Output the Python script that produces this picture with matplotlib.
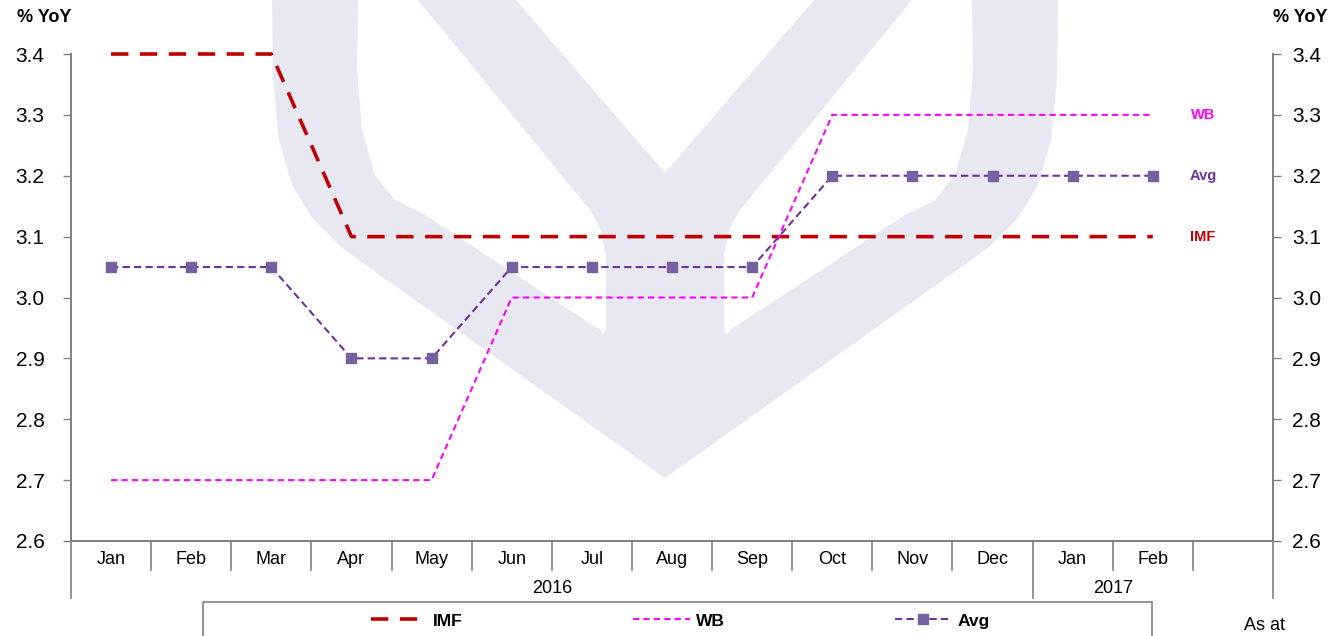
import matplotlib.pyplot as plt
from matplotlib.patches import Polygon, Rectangle

plt.rcParams['font.family'] = ['Liberation Sans', 'DejaVu Sans']

# data
months = ["Jan", "Feb", "Mar", "Apr", "May", "Jun", "Jul", "Aug", "Sep",
          "Oct", "Nov", "Dec", "Jan", "Feb", ""]
years = ["2016", "2017"]
imf = [3.4, 3.4, 3.4, 3.1, 3.1, 3.1, 3.1, 3.1, 3.1, 3.1, 3.1, 3.1, 3.1, 3.1]
wb = [2.7, 2.7, 2.7, 2.7, 2.7, 3.0, 3.0, 3.0, 3.0, 3.3, 3.3, 3.3, 3.3, 3.3]
avg = [3.05, 3.05, 3.05, 2.9, 2.9, 3.05, 3.05, 3.05, 3.05, 3.2, 3.2, 3.2, 3.2, 3.2]
yticks = [2.6, 2.7, 2.8, 2.9, 3.0, 3.1, 3.2, 3.3, 3.4]

W, H = 1343, 636
fig = plt.figure(figsize=(W / 100, H / 100), dpi=100)

# background layer in pixel coords: watermark + legend box
bg = fig.add_axes([0, 0, 1, 1], zorder=0)
bg.set_xlim(0, W)
bg.set_ylim(H, 0)
bg.axis("off")

wm = "#e8e8f2"
half_outer = [(272, 0), (273, 80), (279, 140), (292, 185), (312, 218), (342, 248), (665, 478)]
outer = half_outer + [(1330 - x, y) for x, y in reversed(half_outer[:-1])]
bg.add_patch(Polygon(outer, closed=True, fc=wm, ec="none"))
hole = [(358, 0), (357, 70), (362, 130), (375, 175), (395, 200), (425, 215),
        (600, 330), (603, 334), (606, 330), (606, 255), (600, 228), (590, 210),
        (418, 0)]
bg.add_patch(Polygon(hole, closed=True, fc="white", ec="none"))
bg.add_patch(Polygon([(1330 - x, y) for x, y in hole], closed=True, fc="white", ec="none"))
bg.add_patch(Polygon([(516, 0), (665, 173), (814, 0)], closed=True, fc="white", ec="none"))

bg.add_patch(Rectangle((203, 602), 1152 - 203, 60, fc="none", ec="#808080", lw=1.2))

# main chart
ax = fig.add_axes([71 / W, 1 - 541 / H, (1273 - 71) / W, 487 / H], zorder=1)
ax.patch.set_alpha(0)
x = list(range(len(imf)))

ax.plot(x, imf, color="#c00000", lw=2.6, dashes=(4.8, 3.2), label="IMF", clip_on=False)
ax.plot(x, wb, color="#ff00ff", lw=1.5, dashes=(3, 2), label="WB", clip_on=False)
ax.plot(x, avg, color="#7030a0", lw=1.5, dashes=(3.5, 2), marker="s",
        ms=7, mfc="#7660a0", mec="#7660a0", label="Avg", clip_on=False)

ax.set_xlim(-0.5, len(months) - 0.5)
ax.set_ylim(2.6, 3.4)
ax.set_yticks(yticks)
ax.set_yticklabels([f"{v:.1f}" for v in yticks])
ax.tick_params(axis="y", which="major", length=6, width=1, color="#808080",
               labelsize=15, pad=13, left=True, right=False)
ax.set_xticks([])

ax2 = ax.twinx()
ax2.set_ylim(2.6, 3.4)
ax2.set_yticks(yticks)
ax2.set_yticklabels([f"{v:.1f}" for v in yticks])
ax2.tick_params(axis="y", length=6, width=1, color="#808080", labelsize=15, pad=8)
ax2.patch.set_alpha(0)

for a in (ax, ax2):
    a.spines["top"].set_visible(False)
    for s in ("left", "right", "bottom"):
        a.spines[s].set_color("#808080")
        a.spines[s].set_linewidth(1.2)

# category axis: separators, month labels, year labels
xt = ax.get_xaxis_transform()
for i in range(len(months) + 1):
    b = i - 0.5
    depth = 0.117 if b in (-0.5, 11.5, len(months) - 0.5) else 0.06
    ax.plot([b, b], [0, -depth], transform=xt, color="#808080", lw=1.2, clip_on=False)
for i, m in enumerate(months):
    ax.text(i, -0.039, m, transform=xt, ha="center", va="center", fontsize=13)
ax.text(5.5, -0.097, years[0], transform=xt, ha="center", va="center", fontsize=13)
ax.text(12.5, -0.097, years[1], transform=xt, ha="center", va="center", fontsize=13)

# end labels
for vals, name, col in [(wb, "WB", "#ff00ff"), (avg, "Avg", "#7030a0"), (imf, "IMF", "#c00000")]:
    ax.annotate(name, (x[-1], vals[-1]), xytext=(36, 0), textcoords="offset points",
                ha="center", va="center", fontsize=10.5, fontweight="bold", color=col)

fig.text(44 / W, 1 - 17 / H, "% YoY", ha="center", va="center", fontsize=13, fontweight="bold")
fig.text(1300 / W, 1 - 17 / H, "% YoY", ha="center", va="center", fontsize=13, fontweight="bold")
fig.text(1265 / W, 1 - 625 / H, "As at", ha="center", va="center", fontsize=13)

h, l = ax.get_legend_handles_labels()
leg = fig.legend(h, l, loc="center", bbox_to_anchor=(680 / W, 1 - 621 / H), ncol=3,
                 frameon=False, handlelength=3.3, handletextpad=0.3, columnspacing=9.8,
                 prop={"weight": "bold", "size": 12.5})

fig.savefig("out.png", dpi=100)
